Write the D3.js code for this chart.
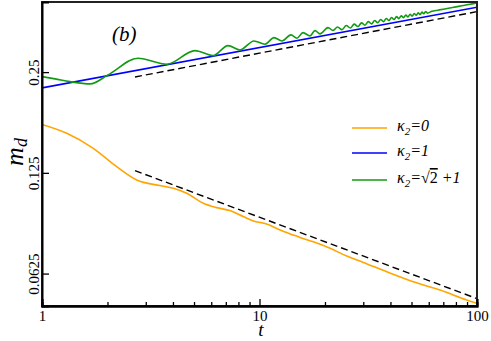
<!DOCTYPE html>
<html>
<head>
<meta charset="utf-8">
<script src="https://cdn.jsdelivr.net/npm/d3@7"></script>
<style>
body { margin: 0; background: #fff; }
</style>
</head>
<body>
<script>
//Width and height
var w = 491;
var h = 341;

// plot box (pixels)
var plotLeft = 42, plotRight = 477, plotTop = 2, plotBottom = 306;
var serif = "'Liberation Serif', 'Times New Roman', Times, 'DejaVu Serif', serif";

// ---- data ----
// kappa2 = 1 (straight power law)
var tBlue = [1, 100];
var mBlue = [0.2242, 0.3907];

// dashed guide lines
var tGuideUp = [2.677, 100];
var mGuideUp = [0.2418, 0.3791];
var tGuideDown = [2.677, 100];
var mGuideDown = [0.1269, 0.0526];

// kappa2 = 0
var tOrange = [1, 1.299, 1.721, 2.205, 2.725, 3.487, 4.015, 4.628, 5.514, 6.357, 7.318, 8.424,
               9.366, 10.79, 12.43, 14.30, 15.36, 17.68, 21.10, 25.17, 30.01, 38.45, 50.94,
               67.61, 89.68, 100];
var mOrange = [0.1744, 0.1641, 0.1480, 0.1304, 0.1190, 0.1145, 0.1124, 0.1086, 0.1014, 0.0984,
               0.0964, 0.0925, 0.0898, 0.0879, 0.0844, 0.0815, 0.0801, 0.0778, 0.0744, 0.0705,
               0.0675, 0.0633, 0.0591, 0.0558, 0.0521, 0.0509];

// kappa2 = sqrt(2)+1 (oscillating)
var tGreen = [1, 1.148, 1.345, 1.663, 2.011, 2.763, 3.756, 5.051, 6.112, 7.166, 8.135, 9.434,
              10.60, 11.66, 12.69, 13.96, 14.87, 15.85, 17.07, 17.99, 18.98, 20.65, 21.78, 22.85,
              23.95, 25.05, 26.15, 27.25, 28.35, 29.45, 30.55, 31.65, 32.75, 33.85, 34.95, 36.05,
              37.15, 38.25, 39.35, 40.45, 41.55, 42.65, 43.75, 44.85, 45.95, 47.05, 48.15, 49.25,
              50.35, 51.45, 52.55, 53.65, 54.75, 55.85, 56.95, 58.05, 59.15, 62, 66, 70, 75, 80,
              85, 90, 95, 100];
var mGreen = [0.2423, 0.2386, 0.2341, 0.2305, 0.2452, 0.2751, 0.2639, 0.2898, 0.2801, 0.3000,
              0.2912, 0.3098, 0.3029, 0.3170, 0.3098, 0.3229, 0.3157, 0.3281, 0.3207, 0.3327,
              0.3252, 0.3396, 0.3331, 0.3409, 0.3347, 0.3445, 0.3385, 0.3478, 0.3420, 0.3509,
              0.3452, 0.3538, 0.3483, 0.3565, 0.3512, 0.3591, 0.3539, 0.3616, 0.3565, 0.3639,
              0.3589, 0.3661, 0.3613, 0.3683, 0.3635, 0.3703, 0.3656, 0.3723, 0.3677, 0.3742,
              0.3697, 0.3760, 0.3716, 0.3777, 0.3734, 0.3794, 0.3752, 0.3799, 0.3828, 0.3855,
              0.3887, 0.3917, 0.3946, 0.3973, 0.3999, 0.4024];

// ticks
var xMajor = [1, 10, 100];
var xMinor = [2, 3, 4, 5, 6, 7, 8, 9, 20, 30, 40, 50, 60, 70, 80, 90];
var yMajor = [0.0625, 0.125, 0.25];
var yLabels = ["0.0625", "0.125", "0.25"];

var colors = ["#ffa500", "#0000ff", "#139a13"];

// scales
var x = d3.scaleLog().domain([1, 100]).range([plotLeft, plotRight]);
var y = d3.scaleLog().base(2).domain([0.05, 0.405]).range([plotBottom, plotTop]);

var svg = d3.select("body").append("svg")
            .attr("width", w)
            .attr("height", h)
            .attr("font-family", serif);

svg.append("clipPath").attr("id", "clip")
   .append("rect")
   .attr("x", plotLeft).attr("y", plotTop)
   .attr("width", plotRight - plotLeft).attr("height", plotBottom - plotTop);

function zip(ts, ms) {
    return ts.map(function(t, i) { return [t, ms[i]]; });
}

var line = d3.line()
             .x(function(d) { return x(d[0]); })
             .y(function(d) { return y(d[1]); })
             .curve(d3.curveMonotoneX);

var plot = svg.append("g").attr("clip-path", "url(#clip)");

// dashed guides
[zip(tGuideUp, mGuideUp), zip(tGuideDown, mGuideDown)].forEach(function(d) {
    plot.append("path")
        .attr("d", line(d))
        .attr("fill", "none")
        .attr("stroke", "#000")
        .attr("stroke-width", 1.4)
        .attr("stroke-dasharray", "7,4");
});

plot.append("path").attr("d", line(zip(tOrange, mOrange)))
    .attr("fill", "none").attr("stroke", colors[0]).attr("stroke-width", 1.6);
plot.append("path").attr("d", line(zip(tBlue, mBlue)))
    .attr("fill", "none").attr("stroke", colors[1]).attr("stroke-width", 1.6);
plot.append("path").attr("d", line(zip(tGreen, mGreen)))
    .attr("fill", "none").attr("stroke", colors[2]).attr("stroke-width", 1.6);

// frame
svg.append("rect")
   .attr("x", plotLeft).attr("y", plotTop)
   .attr("width", plotRight - plotLeft).attr("height", plotBottom - plotTop)
   .attr("fill", "none").attr("stroke", "#222").attr("stroke-width", 2);

// x axis: inward ticks
var xAxis = svg.append("g").attr("transform", "translate(0," + plotBottom + ")");
xAxis.call(d3.axisBottom(x).tickValues(xMinor).tickSize(-4).tickFormat(""));
xAxis.append("g").call(d3.axisBottom(x).tickValues(xMajor).tickSize(-7).tickFormat(d3.format("d")));
xAxis.attr("font-family", serif);
xAxis.selectAll("g").attr("font-family", serif);
xAxis.selectAll(".domain").attr("stroke", "#000").attr("stroke-width", 2);
xAxis.selectAll(".tick line").attr("stroke", "#000").attr("stroke-width", 1.3);
xAxis.selectAll(".tick text")
     .attr("y", 15)
     .attr("dy", 0)
     .attr("font-size", 15)
     .attr("fill", "#000");

// y axis: inward ticks, rotated labels
var yAxis = svg.append("g").attr("transform", "translate(" + plotLeft + ",0)");
yAxis.call(d3.axisLeft(y).tickValues(yMajor).tickSize(-7)
             .tickFormat(function(d, i) { return yLabels[i]; }));
yAxis.attr("font-family", serif);
yAxis.selectAll(".domain").attr("stroke", "#000").attr("stroke-width", 2);
yAxis.selectAll(".tick line").attr("stroke", "#000").attr("stroke-width", 1.3);
yAxis.selectAll(".tick text")
     .attr("x", 0).attr("dy", 0)
     .attr("text-anchor", "middle")
     .attr("transform", "translate(-3.5,0) rotate(-90)")
     .attr("font-size", 15)
     .attr("fill", "#000");

// axis titles
svg.append("text")
   .attr("x", 261).attr("y", 336)
   .attr("text-anchor", "middle")
   .attr("font-style", "italic")
   .attr("font-size", 19)
   .text("t");

var yt = svg.append("text")
   .attr("transform", "translate(23,152) rotate(-90)")
   .attr("text-anchor", "middle")
   .attr("font-style", "italic");
yt.append("tspan").attr("font-size", 26).text("m");
yt.append("tspan").attr("dy", 4).attr("font-size", 18).text("d");

// panel label
svg.append("text")
   .attr("x", 112).attr("y", 41)
   .attr("font-style", "italic")
   .attr("font-size", 21)
   .text("(b)");

// legend
var legendY = [128, 153, 180];
var legend = svg.append("g");
legendY.forEach(function(ly, i) {
    legend.append("line")
          .attr("x1", 352).attr("x2", 387)
          .attr("y1", ly).attr("y2", ly)
          .attr("stroke", colors[i]).attr("stroke-width", 1.6);
    var t = legend.append("text")
          .attr("x", 397).attr("y", ly + 3)
          .attr("font-style", "italic")
          .attr("font-size", 16);
    t.append("tspan").text("\u03ba");
    t.append("tspan").attr("dy", 4).attr("font-size", 11).text("2");
    t.append("tspan").attr("dy", -4).text("=");
    if (i === 0) t.append("tspan").text("0");
    if (i === 1) t.append("tspan").text("1");
    if (i === 2) {
        t.append("tspan").attr("font-style", "normal").text("\u221a");
        t.append("tspan").attr("font-style", "normal").attr("text-decoration", "overline").text("2");
        t.append("tspan").text(" +1");
    }
});
</script>
</body>
</html>
